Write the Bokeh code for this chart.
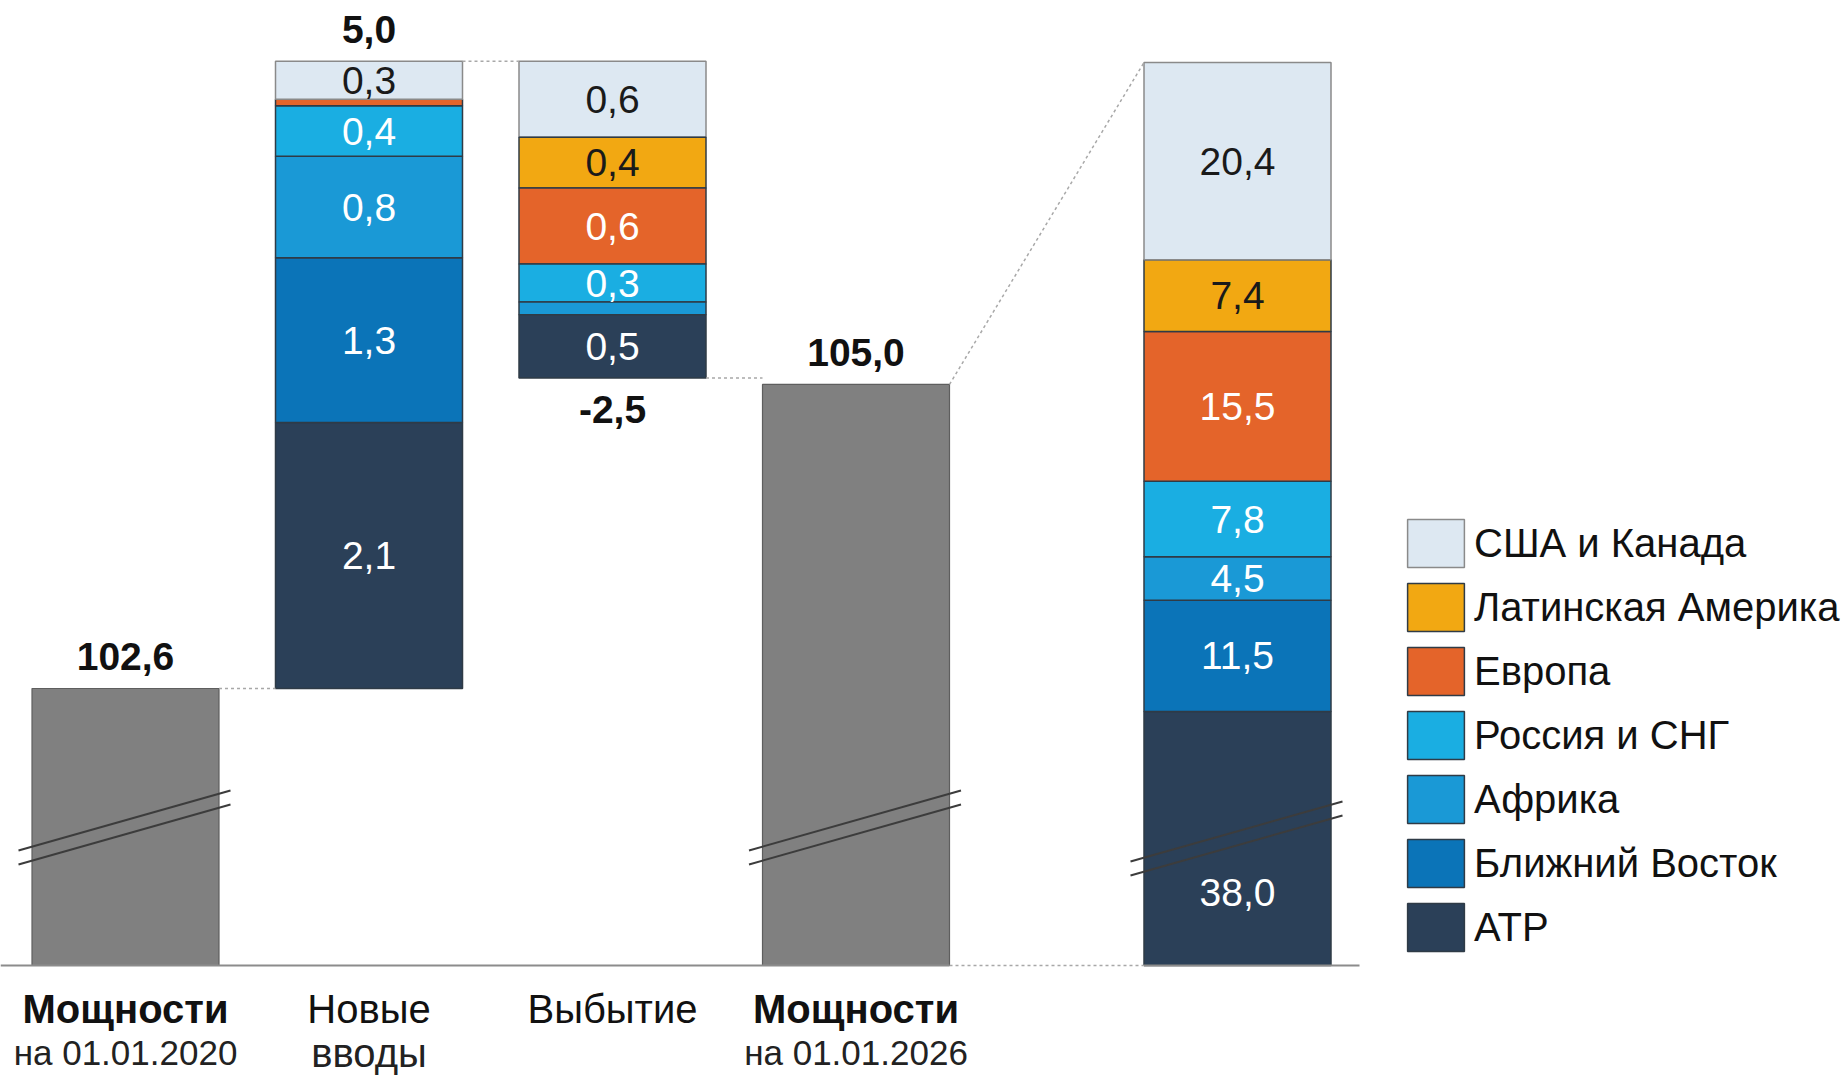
from bokeh.plotting import figure
from bokeh.models import Range1d, Legend, LegendItem, ColumnDataSource
from bokeh.core.properties import value
from bokeh.embed import file_html
from bokeh.resources import INLINE

# ---- data -------------------------------------------------------------
regions = ["США и Канада", "Латинская Америка", "Европа", "Россия и СНГ",
           "Африка", "Ближний Восток", "АТР"]
region_colors = ["#dde8f2", "#f2a812", "#e4642a", "#1aaee2",
                 "#1a99d6", "#0b74b8", "#2b4058"]
label_colors = ["#1a1a1a", "#1a1a1a", "white", "white", "white", "white", "white"]

capacity_2020 = 102.6
new_inputs = [0.3, 0.0, 0.05, 0.4, 0.8, 1.3, 2.1]      # by region
retired = [0.6, 0.4, 0.6, 0.3, 0.1, 0.0, 0.5]          # by region
capacity_2026 = 105.0
capacity_2026_by_region = [20.4, 7.4, 15.5, 7.8, 4.5, 11.5, 38.0]

total_labels = [102.6, 5.0, -2.5, 105.0]
cat_line1 = ["Мощности", "Новые", "Выбытие", "Мощности"]
cat_line2 = ["на 01.01.2020", "вводы", "", "на 01.01.2026"]
cat_bold = [True, False, False, True]

# ---- layout -----------------------------------------------------------
W, H = 1845, 1081
X0, STEP = 125.0, 243.5          # pixel centre of first column, column step
BW = 187.0 / STEP                # bar width in column units
DETAIL_X = (1237.0 - X0) / STEP  # breakdown column
BASE_PX = 965.0                  # baseline (axis line)
MAIN_REF_PX, MAIN_PPU = 688.0, 126.7
DET_TOP_PX, DET_PPU = 62.0, 9.672
FONT = "Liberation Sans"

det_total = sum(capacity_2026_by_region)


def xv(px):
    return (px - X0) / STEP


def yv(px):
    return capacity_2020 + (MAIN_REF_PX - px) / MAIN_PPU


def ypx(v):
    return MAIN_REF_PX - (v - capacity_2020) * MAIN_PPU


def dv(px):
    return det_total + (DET_TOP_PX - px) / DET_PPU


def dpx(v):
    return DET_TOP_PX + (det_total - v) * DET_PPU


def fmt(v):
    return f"{v:.1f}".replace(".", ",")


p = figure(width=W, height=H, x_range=Range1d(xv(0), xv(W)),
           y_range=Range1d(yv(H), yv(0)),
           output_backend="svg", toolbar_location=None,
           x_axis_location=None, y_axis_location=None,
           min_border=0, outline_line_color=None)
p.extra_y_ranges = {"detail": Range1d(dv(H), dv(0))}
p.grid.visible = False
p.background_fill_color = "white"

base_v = yv(BASE_PX)

# ---- totals (grey columns) ---------------------------------------------
p.quad(left=[0 - BW / 2, 3 - BW / 2], right=[0 + BW / 2, 3 + BW / 2],
       bottom=[base_v, base_v], top=[capacity_2020, capacity_2026],
       fill_color="#808080", line_color="#5e5e5e", line_width=1.2)

# ---- new inputs (stacked upward from 2020 level) -----------------------
seg = dict(left=[], right=[], bottom=[], top=[], color=[], line=[])
labels = dict(x=[], y=[], text=[], color=[])
level = capacity_2020
for i in reversed(range(len(regions))):
    v = new_inputs[i]
    if v <= 0:
        continue
    seg["left"].append(1 - BW / 2); seg["right"].append(1 + BW / 2)
    seg["bottom"].append(level); seg["top"].append(level + v)
    seg["color"].append(region_colors[i])
    seg["line"].append("#8a8a8a" if i == 0 else "#2f3b46")
    if v >= 0.2:
        labels["x"].append(1); labels["y"].append(level + v / 2)
        labels["text"].append(fmt(v)); labels["color"].append(label_colors[i])
    level += v
new_top = level

# ---- retirements (hanging down from the new-inputs top) ----------------
level = new_top
for i in range(len(regions)):
    v = retired[i]
    if v <= 0:
        continue
    seg["left"].append(2 - BW / 2); seg["right"].append(2 + BW / 2)
    seg["bottom"].append(level - v); seg["top"].append(level)
    seg["color"].append(region_colors[i])
    seg["line"].append("#8a8a8a" if i == 0 else "#2f3b46")
    if v >= 0.2:
        labels["x"].append(2); labels["y"].append(level - v / 2)
        labels["text"].append(fmt(v)); labels["color"].append(label_colors[i])
    level -= v
ret_bottom = level

p.quad(left="left", right="right", bottom="bottom", top="top",
       fill_color="color", line_color="line", line_width=1.5,
       source=ColumnDataSource(seg))

# ---- breakdown of 2026 capacity (own scale, cut at the baseline) -------
det_base = dv(BASE_PX)
det_renderers = []
det_labels = dict(x=[], y=[], text=[], color=[])
level = 0.0
for i in reversed(range(len(regions))):
    v = capacity_2026_by_region[i]
    bottom = max(level, det_base)
    r = p.quad(left=[DETAIL_X - BW / 2], right=[DETAIL_X + BW / 2],
               bottom=[bottom], top=[level + v],
               fill_color=region_colors[i],
               line_color="#8a8a8a" if i == 0 else "#2f3b46", line_width=1.5,
               y_range_name="detail")
    det_renderers.append((i, r))
    if level < det_base:
        ly = dv(892)
    else:
        ly = level + v / 2
    det_labels["x"].append(DETAIL_X); det_labels["y"].append(ly)
    det_labels["text"].append(fmt(v)); det_labels["color"].append(label_colors[i])
    level += v

# ---- connectors ---------------------------------------------------------
dot = dict(line_color="#a8a8a8", line_width=1.5, line_dash="3 3")
p.segment(x0=[0 + BW / 2, 1 + BW / 2, 2 + BW / 2],
          y0=[capacity_2020, new_top, ret_bottom],
          x1=[1 - BW / 2, 2 - BW / 2, 3 - BW / 2],
          y1=[capacity_2020, new_top, ret_bottom], **dot)
p.segment(x0=[3 + BW / 2, 3 + BW / 2],
          y0=[capacity_2026, base_v],
          x1=[DETAIL_X - BW / 2, DETAIL_X - BW / 2],
          y1=[yv(dpx(det_total)), base_v], **dot)

# ---- baseline -----------------------------------------------------------
p.segment(x0=[xv(0), DETAIL_X - BW / 2], y0=[base_v, base_v],
          x1=[3 + BW / 2, xv(1359)], y1=[base_v, base_v],
          line_color="#8c8c8c", line_width=2)

# ---- axis-break marks ---------------------------------------------------
bx0, by0, bx1, by1 = [], [], [], []
for cx, shift in [(0, 0), (3, 0), (DETAIL_X, 11)]:
    for off in (0, 14):
        bx0.append(cx - 107 / STEP); by0.append(yv(850 + off + shift))
        bx1.append(cx + 105 / STEP); by1.append(yv(790 + off + shift))
p.segment(x0=bx0, y0=by0, x1=bx1, y1=by1, line_color="#3c3c3c", line_width=2)

# ---- value labels -------------------------------------------------------
p.text(x="x", y="y", text="text", text_color="color", source=ColumnDataSource(labels),
       text_align="center", text_baseline="middle",
       text_font=value(FONT), text_font_size="39px")
p.text(x="x", y="y", text="text", text_color="color", source=ColumnDataSource(det_labels),
       text_align="center", text_baseline="middle",
       text_font=value(FONT), text_font_size="39px", y_range_name="detail")

tot_y = [yv(ypx(capacity_2020) - 32), yv(ypx(new_top) - 32),
         yv(ypx(ret_bottom) + 31), yv(ypx(capacity_2026) - 32)]
p.text(x=[0, 1, 2, 3], y=tot_y, text=[fmt(v) for v in total_labels],
       text_align="center", text_baseline="middle", text_color="#111111",
       text_font=value(FONT), text_font_size="39px", text_font_style="bold")

# ---- category labels ----------------------------------------------------
for k in range(4):
    p.text(x=[k], y=[yv(1008)], text=[cat_line1[k]], text_align="center",
           text_baseline="middle", text_color="#111111",
           text_font=value(FONT), text_font_size="40px",
           text_font_style="bold" if cat_bold[k] else "normal")
    if cat_line2[k]:
        p.text(x=[k], y=[yv(1052)], text=[cat_line2[k]], text_align="center",
               text_baseline="middle", text_color="#222222",
               text_font=value(FONT),
               text_font_size="35px" if cat_bold[k] else "40px")

# ---- legend -------------------------------------------------------------
items = [LegendItem(label=regions[i], renderers=[r])
         for i, r in sorted(det_renderers, key=lambda t: t[0])]
legend = Legend(items=items, location=(1400, H - 957), orientation="vertical",
                glyph_width=71, glyph_height=60, spacing=4, label_standoff=3,
                label_height=60, padding=0, margin=0,
                border_line_color=None, background_fill_alpha=0,
                label_text_font=FONT, label_text_font_size="40px",
                label_text_color="#111111")
p.add_layout(legend)

open("out.html", "w").write(file_html(p, INLINE))
